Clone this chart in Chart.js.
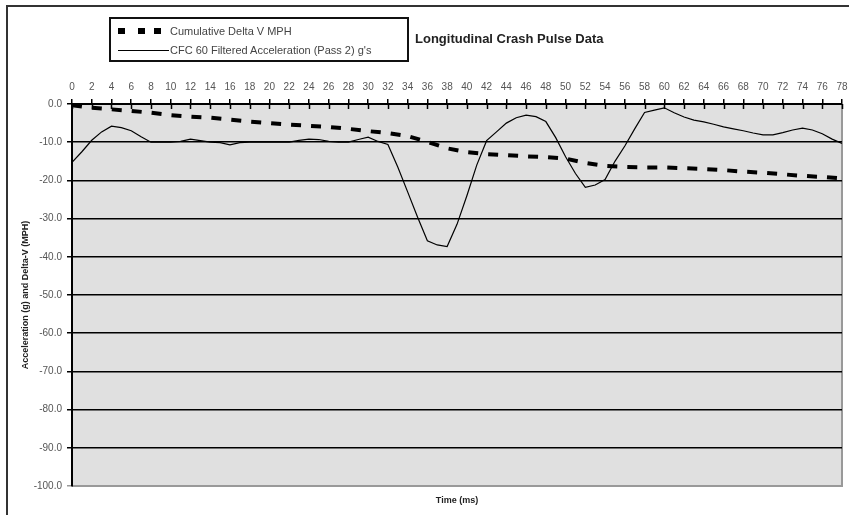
<!DOCTYPE html>
<html>
<head>
<meta charset="utf-8">
<script src="https://cdn.jsdelivr.net/npm/chart.js@4/dist/chart.umd.min.js"></script>
<style>
    html, body { margin: 0; padding: 0; background: #fff; }
    #wrap { position: relative; width: 849px; height: 515px; overflow: hidden; font-family: "Liberation Sans", Arial, sans-serif; }
    #frame { position: absolute; left: 6px; top: 5px; width: 900px; height: 508px; border-top: 2px solid #333; border-left: 2px solid #333; }
    #crashChart { position: absolute; left: 0; top: 0; }
    #legendBox { position: absolute; left: 109px; top: 17px; width: 300px; height: 45px; box-sizing: border-box; border: 2px solid #111; background: #fff; }
    .row { position: absolute; left: 0; height: 14px; font-size: 11px; color: #444; white-space: nowrap; }
    .row .txt { position: absolute; left: 59px; top: 0; line-height: 14px; }
    .sq { position: absolute; top: 4px; width: 7px; height: 6px; background: #000; }
    .solid { position: absolute; left: 7px; top: 7px; width: 51px; height: 1px; background: #000; }
    #title { position: absolute; left: 415px; top: 31px; font-size: 13px; font-weight: bold; color: #222; white-space: nowrap; }
</style>
</head>
<body>
<div id="wrap">
    <div id="frame"></div>
    <canvas id="crashChart" width="849" height="515"></canvas>
    <div id="legendBox">
        <div class="row" style="top:5px;">
            <span class="sq" style="left:7px;"></span>
            <span class="sq" style="left:27px;"></span>
            <span class="sq" style="left:43px;"></span>
            <span class="txt">Cumulative Delta V MPH</span>
        </div>
        <div class="row" style="top:24px;">
            <span class="solid"></span>
            <span class="txt">CFC 60 Filtered Acceleration (Pass 2) g's</span>
        </div>
    </div>
    <div id="title">Longitudinal Crash Pulse Data</div>
</div>
<script>
/* ------- data ------- */
const accelTimes = [0, 1, 2, 3, 4, 5, 6, 7, 8, 9, 10, 11, 12, 13, 14, 15, 16, 17, 18, 19,
    20, 21, 22, 23, 24, 25, 26, 27, 28, 29, 30, 31, 32, 33, 34, 35, 36, 37, 38, 39,
    40, 41, 42, 43, 44, 45, 46, 47, 48, 49, 50, 51, 52, 53, 54, 55, 56, 57, 58, 59,
    60, 61, 62, 63, 64, 65, 66, 67, 68, 69, 70, 71, 72, 73, 74, 75, 76, 77, 78];
const accelG = [-15.3, -12.5, -9.5, -7.3, -5.8, -6.2, -7.0, -8.6, -10.0, -10.0,
    -10.0, -9.8, -9.2, -9.6, -10.0, -10.1, -10.7, -10.1, -10.0, -10.0,
    -10.0, -10.0, -10.0, -9.5, -9.2, -9.3, -9.8, -10.0, -10.0, -9.3,
    -8.7, -9.8, -10.6, -16.5, -23.0, -29.6, -35.8, -36.9, -37.3, -31.5,
    -24.0, -16.0, -9.6, -7.3, -5.0, -3.6, -2.9, -3.3, -4.6, -8.8,
    -13.8, -18.2, -21.8, -21.2, -19.8, -15.0, -11.0, -6.5, -2.2, -1.6,
    -1.0, -2.3, -3.4, -4.2, -4.7, -5.3, -6.0, -6.5, -7.0, -7.6,
    -8.1, -8.1, -7.5, -6.8, -6.3, -6.8, -7.8, -9.2, -10.3];

const deltaVTimes = [0, 2, 4, 6, 8, 10, 12, 14, 16, 18, 20, 22, 24, 26, 28, 30, 32, 34, 36, 38,
    40, 42, 44, 46, 48, 50, 52, 54, 56, 58, 60, 62, 64, 66, 68, 70, 72, 74, 76, 78];
const deltaVMph = [-0.3, -1.0, -1.4, -1.8, -2.3, -2.9, -3.3, -3.6, -4.1, -4.6,
    -5.0, -5.4, -5.7, -6.0, -6.5, -7.1, -7.6, -8.4, -9.9, -11.6,
    -12.6, -13.1, -13.4, -13.7, -13.9, -14.3, -15.4, -16.2, -16.5, -16.6,
    -16.6, -16.8, -17.0, -17.3, -17.7, -18.0, -18.4, -18.8, -19.1, -19.5];

const xMin = 0, xMax = 78, xStep = 2;
const yMin = -100, yMax = 0, yStep = 10;

const FONT = '"Liberation Sans", Arial, sans-serif';

/* ------- plot background + inner half of the top tick marks ------- */
const plotDecor = {
    id: 'plotDecor',
    beforeDraw(chart) {
        const { ctx, chartArea: a } = chart;
        ctx.save();
        ctx.fillStyle = '#e0e0e0';
        ctx.fillRect(a.left, a.top, a.right - a.left, a.bottom - a.top);
        ctx.strokeStyle = '#999';
        ctx.lineWidth = 2;
        ctx.beginPath();
        ctx.moveTo(a.right, a.top);
        ctx.lineTo(a.right, a.bottom);
        ctx.lineTo(a.left, a.bottom);
        ctx.stroke();
        ctx.restore();
    },
    afterDatasetsDraw(chart) {
        const { ctx, chartArea: a } = chart;
        const xs = chart.scales.x;
        ctx.save();
        ctx.strokeStyle = '#000';
        ctx.lineWidth = 1.5;
        ctx.beginPath();
        xs.ticks.forEach(t => {
            const px = Math.round(xs.getPixelForValue(t.value)) + 0.5;
            ctx.moveTo(px, a.top);
            ctx.lineTo(px, a.top + 5);
        });
        ctx.stroke();
        ctx.restore();
    }
};

// keep the plot edge fixed, ignore label overhang
function fixX(height) {
    return s => {
        s.height = height;
        s.paddingLeft = 0;
        s.paddingRight = 0;
    };
}

document.addEventListener('DOMContentLoaded', () => {
    const ctx = document.getElementById('crashChart').getContext('2d');

    new Chart(ctx, {
        type: 'line',
        data: {
            datasets: [
                {
                    label: 'Cumulative Delta V MPH',
                    data: deltaVTimes.map((t, i) => ({ x: t, y: deltaVMph[i] })),
                    borderColor: '#000',
                    borderWidth: 4,
                    borderDash: [10, 10],
                    borderCapStyle: 'butt',
                    pointRadius: 0,
                    tension: 0,
                    order: 0
                },
                {
                    label: "CFC 60 Filtered Acceleration (Pass 2) g's",
                    data: accelTimes.map((t, i) => ({ x: t, y: accelG[i] })),
                    borderColor: '#000',
                    borderWidth: 1.2,
                    pointRadius: 0,
                    tension: 0,
                    order: 1
                }
            ]
        },
        options: {
            responsive: false,
            animation: false,
            layout: { padding: { left: 8, right: 7, top: 66, bottom: 0 } },
            plugins: {
                legend: { display: false },
                tooltip: { enabled: false }
            },
            scales: {
                x: {
                    type: 'linear',
                    position: 'top',
                    min: xMin,
                    max: xMax,
                    afterFit: fixX(38),
                    ticks: {
                        stepSize: xStep,
                        autoSkip: false,
                        maxRotation: 0,
                        padding: 6,
                        color: '#555',
                        font: { family: FONT, size: 10 }
                    },
                    grid: { drawOnChartArea: false, drawTicks: true, tickLength: 5, color: '#000', lineWidth: 1.5 },
                    border: { display: true, color: '#000', width: 2 }
                },
                xb: {
                    type: 'linear',
                    position: 'bottom',
                    min: xMin,
                    max: xMax,
                    afterFit: fixX(29),
                    ticks: { display: false },
                    grid: { display: false },
                    border: { display: false },
                    title: {
                        display: true,
                        text: 'Time (ms)',
                        color: '#222',
                        font: { family: FONT, size: 9, weight: 'bold' },
                        padding: { top: 0, bottom: 9 }
                    }
                },
                y: {
                    min: yMin,
                    max: yMax,
                    afterFit: s => { s.width = 64; },
                    ticks: {
                        stepSize: yStep,
                        padding: 5,
                        color: '#555',
                        font: { family: FONT, size: 10 },
                        callback: v => v.toFixed(1)
                    },
                    grid: {
                        color: c => (c.tick && c.tick.value === yMin ? '#999' : '#000'),
                        lineWidth: 1.5,
                        tickLength: 5
                    },
                    border: { display: true, color: '#000', width: 2 },
                    title: {
                        display: true,
                        text: 'Acceleration (g) and Delta-V (MPH)',
                        color: '#222',
                        font: { family: FONT, size: 9, weight: 'bold' },
                        padding: { top: 12, bottom: 0 }
                    }
                }
            }
        },
        plugins: [plotDecor]
    });
});
</script>
</body>
</html>
